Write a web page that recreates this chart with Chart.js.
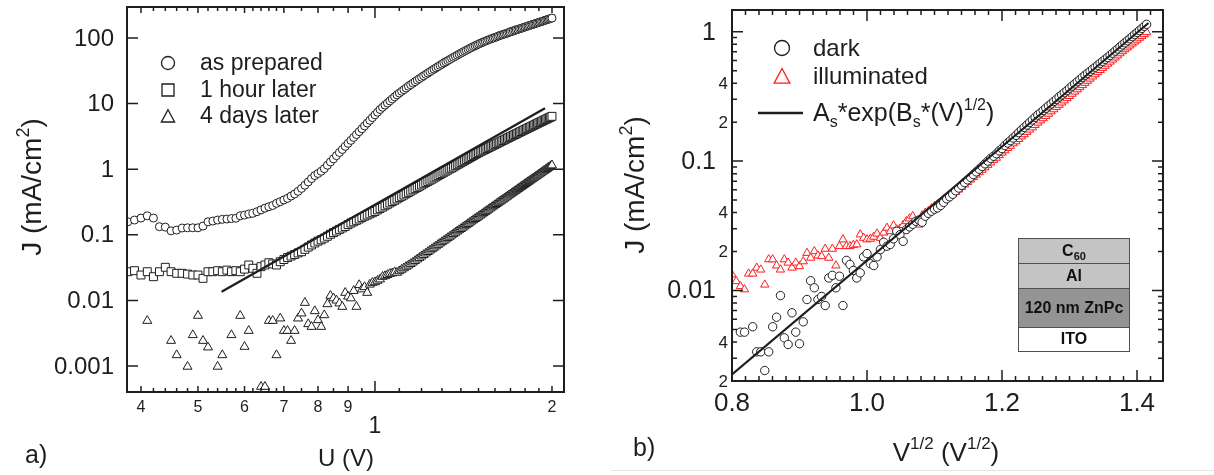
<!DOCTYPE html>
<html>
<head>
<meta charset="utf-8">
<script src="https://cdn.jsdelivr.net/npm/chart.js@4.4.1/dist/chart.umd.min.js"></script>
<style>
  html, body { margin: 0; padding: 0; background: #fff; }
  #wrap { position: relative; width: 1214px; height: 475px; overflow: hidden; }
  canvas { position: absolute; top: 0; }
  #jvA { left: 0; }
  #jvB { left: 600px; }
  .rule { position: absolute; left: 611px; top: 470px; width: 603px; height: 1px; background: #e4e4e4; }
</style>
</head>
<body>
<div id="wrap">
  <canvas id="jvA" width="600" height="475"></canvas>
  <canvas id="jvB" width="614" height="475"></canvas>
  <div class="rule"></div>
</div>
<script>
// ---- panel a: J-U on log-log axes, sample ageing ----
const U_A = [
  0.38, 0.39, 0.40, 0.41, 0.42, 0.43, 0.44, 0.45, 0.46, 0.47, 0.48, 0.49,
  0.50, 0.51, 0.52, 0.53, 0.54, 0.55, 0.56, 0.57, 0.58, 0.59,
  0.60, 0.61, 0.62, 0.63, 0.64, 0.65, 0.66, 0.67, 0.68, 0.69,
  0.70, 0.71, 0.72, 0.73, 0.74, 0.75, 0.76, 0.77, 0.78, 0.79,
  0.80, 0.81, 0.82, 0.83, 0.84, 0.85, 0.86, 0.87, 0.88, 0.89,
  0.90, 0.91, 0.92, 0.93, 0.94, 0.95, 0.96, 0.97, 0.98, 0.99,
  1.00, 1.01, 1.02, 1.03, 1.04, 1.05, 1.06, 1.07, 1.08, 1.09,
  1.10, 1.11, 1.12, 1.13, 1.14, 1.15, 1.16, 1.17, 1.18, 1.19,
  1.20, 1.21, 1.22, 1.23, 1.24, 1.25, 1.26, 1.27, 1.28, 1.29,
  1.30, 1.31, 1.32, 1.33, 1.34, 1.35, 1.36, 1.37, 1.38, 1.39,
  1.40, 1.41, 1.42, 1.43, 1.44, 1.45, 1.46, 1.47, 1.48, 1.49,
  1.50, 1.51, 1.52, 1.53, 1.54, 1.55, 1.56, 1.57, 1.58, 1.59,
  1.60, 1.61, 1.62, 1.63, 1.64, 1.65, 1.66, 1.67, 1.68, 1.69,
  1.70, 1.71, 1.72, 1.73, 1.74, 1.75, 1.76, 1.77, 1.78, 1.79,
  1.80, 1.81, 1.82, 1.83, 1.84, 1.85, 1.86, 1.87, 1.88, 1.89,
  1.90, 1.91, 1.92, 1.93, 1.94, 1.95, 1.96, 1.97, 1.98, 1.99,
  2.00
];
const J_PREPARED = [
  0.158, 0.168, 0.180, 0.195, 0.180, 0.133, 0.131, 0.115, 0.118, 0.127, 0.128, 0.128,
  0.128, 0.136, 0.158, 0.162, 0.168, 0.172, 0.174, 0.177, 0.179, 0.195,
  0.200, 0.208, 0.213, 0.225, 0.240, 0.255, 0.268, 0.280, 0.302, 0.320,
  0.340, 0.360, 0.390, 0.420, 0.460, 0.510, 0.570, 0.640, 0.720, 0.800,
  0.860, 0.930, 1.02, 1.15, 1.29, 1.44, 1.61, 1.80, 2.00, 2.23,
  2.48, 2.75, 3.05, 3.38, 3.74, 4.14, 4.57, 5.05, 5.56, 6.12,
  6.74, 7.40, 8.13, 8.79, 9.49, 10.2, 11.0, 11.8, 12.7, 13.6,
  14.5, 15.4, 16.3, 17.3, 18.4, 19.4, 20.5, 21.6, 22.8, 24.0,
  25.2, 26.5, 27.9, 29.2, 30.6, 32.1, 33.6, 35.1, 36.6, 38.3,
  39.9, 41.7, 43.4, 45.2, 47.0, 48.9, 50.8, 52.7, 54.7, 56.8,
  58.7, 60.8, 63.0, 65.0, 67.3, 69.5, 71.8, 74.0, 76.2, 78.5,
  80.7, 83.0, 85.1, 87.3, 89.5, 91.6, 93.8, 95.9, 98.2, 100,
  102, 104, 107, 109, 111, 113, 115, 117, 119, 122,
  124, 126, 128, 131, 133, 135, 138, 140, 142, 145,
  147, 150, 152, 155, 157, 160, 162, 165, 168, 170,
  173, 176, 178, 181, 184, 187, 190, 193, 195, 199,
  201
];
const J_1HOUR = [
  0.0274, 0.0284, 0.0244, 0.0274, 0.0230, 0.0274, 0.0320, 0.0274, 0.0259, 0.0259, 0.0252, 0.0244,
  0.0244, 0.0217, 0.0274, 0.0274, 0.0284, 0.0274, 0.0290, 0.0274, 0.0284, 0.0274,
  0.0300, 0.0347, 0.0309, 0.0259, 0.0327, 0.0347, 0.0376, 0.0360, 0.0347, 0.0389,
  0.0420, 0.0450, 0.0475, 0.0500, 0.0530, 0.0552, 0.0600, 0.0650, 0.0700, 0.0750,
  0.0800, 0.0840, 0.0890, 0.0950, 0.102, 0.108, 0.114, 0.121, 0.127, 0.134,
  0.143, 0.151, 0.158, 0.166, 0.174, 0.183, 0.192, 0.200, 0.208, 0.217,
  0.227, 0.240, 0.252, 0.264, 0.277, 0.292, 0.306, 0.321, 0.336, 0.352,
  0.369, 0.386, 0.404, 0.423, 0.443, 0.463, 0.484, 0.505, 0.527, 0.550,
  0.574, 0.599, 0.625, 0.651, 0.678, 0.706, 0.736, 0.766, 0.797, 0.830,
  0.863, 0.898, 0.933, 0.969, 1.01, 1.04, 1.08, 1.13, 1.17, 1.21,
  1.26, 1.30, 1.35, 1.40, 1.45, 1.50, 1.56, 1.61, 1.67, 1.73,
  1.79, 1.84, 1.90, 1.95, 2.01, 2.07, 2.13, 2.19, 2.25, 2.32,
  2.39, 2.45, 2.52, 2.59, 2.67, 2.74, 2.81, 2.89, 2.97, 3.05,
  3.13, 3.21, 3.30, 3.38, 3.47, 3.56, 3.65, 3.75, 3.84, 3.94,
  4.04, 4.13, 4.24, 4.34, 4.44, 4.55, 4.66, 4.77, 4.89, 5.01,
  5.12, 5.23, 5.35, 5.48, 5.61, 5.73, 5.86, 6.00, 6.12, 6.26,
  6.40
];
// null = no point (current at or below zero, not shown on a log axis)
const J_4DAYS = [
  null, null, null, 0.0049, null, null, null, 0.00243, 0.00147, null, 0.00098, 0.00297,
  0.00585, 0.00243, 0.00193, null, 0.00098, 0.00147, null, 0.00297, null, 0.00585,
  0.00197, 0.00345, null, null, 0.000484, 0.000484, 0.0049, 0.0049, 0.00147, 0.00533,
  0.00345, 0.00345, 0.00243, 0.00345, 0.00533, 0.00636, 0.00922, 0.00437, 0.00397, 0.00689,
  0.00502, 0.00397, 0.00598, 0.0088, 0.0118, 0.0108, 0.0100, 0.00904, 0.00802, 0.0131,
  0.0115, 0.0108, 0.0140, 0.00802, 0.0172, 0.0148, 0.0160, 0.0131, 0.0175, 0.0186,
  0.0190, 0.0200, 0.0210, 0.0230, 0.0235, 0.0245, 0.0255, 0.0259, 0.0270, 0.0265,
  0.0280, 0.0295, 0.0310, 0.0327, 0.0341, 0.0360, 0.0380, 0.0401, 0.0423, 0.0446,
  0.0470, 0.0495, 0.0522, 0.0549, 0.0577, 0.0607, 0.0638, 0.0670, 0.0705, 0.0740,
  0.0776, 0.0815, 0.0854, 0.0896, 0.0938, 0.0982, 0.103, 0.108, 0.113, 0.118,
  0.123, 0.129, 0.135, 0.141, 0.147, 0.154, 0.161, 0.168, 0.175, 0.182,
  0.190, 0.198, 0.206, 0.215, 0.224, 0.233, 0.243, 0.253, 0.263, 0.274,
  0.285, 0.296, 0.308, 0.320, 0.332, 0.345, 0.358, 0.372, 0.386, 0.401,
  0.416, 0.432, 0.448, 0.464, 0.481, 0.499, 0.517, 0.536, 0.555, 0.575,
  0.596, 0.617, 0.638, 0.661, 0.683, 0.707, 0.731, 0.755, 0.782, 0.808,
  0.835, 0.863, 0.891, 0.921, 0.951, 0.982, 1.01, 1.05, 1.08, 1.12,
  1.15
];
// power-law guide line (end points)
const FIT_A_U = [0.5485, 1.946];
const FIT_A_J = [0.0136, 8.47];

const A_Y_TICKS = [0.001, 0.01, 0.1, 1, 10, 100];
const A_Y_TEXT = ['0.001', '0.01', '0.1', '1', '10', '100'];
const A_X_NAMED = [0.4, 0.5, 0.6, 0.7, 0.8, 0.9, 2];
const A_X_NAMED_TEXT = ['4', '5', '6', '7', '8', '9', '2'];
const A_X_SMALL = [0.42, 0.44, 0.46, 0.48, 0.52, 0.54, 0.56, 0.58, 0.62, 0.64, 0.66, 0.68,
  0.75, 0.85, 0.95, 1.1, 1.2, 1.3, 1.4, 1.5, 1.6, 1.7, 1.8, 1.9];
const A_LEGEND = ['as prepared', '1 hour later', '4 days later'];

// ---- panel b: J vs V^1/2, dark and illuminated ----
const V_B = [
  0.64, 0.65, 0.66, 0.67, 0.68, 0.69,
  0.70, 0.71, 0.72, 0.73, 0.74, 0.75, 0.76, 0.77, 0.78, 0.79,
  0.80, 0.81, 0.82, 0.83, 0.84, 0.85, 0.86, 0.87, 0.88, 0.89,
  0.90, 0.91, 0.92, 0.93, 0.94, 0.95, 0.96, 0.97, 0.98, 0.99,
  1.00, 1.01, 1.02, 1.03, 1.04, 1.05, 1.06, 1.07, 1.08, 1.09,
  1.10, 1.11, 1.12, 1.13, 1.14, 1.15, 1.16, 1.17, 1.18, 1.19,
  1.20, 1.21, 1.22, 1.23, 1.24, 1.25, 1.26, 1.27, 1.28, 1.29,
  1.30, 1.31, 1.32, 1.33, 1.34, 1.35, 1.36, 1.37, 1.38, 1.39,
  1.40, 1.41, 1.42, 1.43, 1.44, 1.45, 1.46, 1.47, 1.48, 1.49,
  1.50, 1.51, 1.52, 1.53, 1.54, 1.55, 1.56, 1.57, 1.58, 1.59,
  1.60, 1.61, 1.62, 1.63, 1.64, 1.65, 1.66, 1.67, 1.68, 1.69,
  1.70, 1.71, 1.72, 1.73, 1.74, 1.75, 1.76, 1.77, 1.78, 1.79,
  1.80, 1.81, 1.82, 1.83, 1.84, 1.85, 1.86, 1.87, 1.88, 1.89,
  1.90, 1.91, 1.92, 1.93, 1.94, 1.95, 1.96, 1.97, 1.98, 1.99,
  2.00
];
const J_DARK = [
  null, null, 0.00477, 0.00477, null, 0.00525,
  0.00336, 0.00336, 0.00241, 0.00336, 0.00525, 0.00622, 0.00914, 0.00431, 0.00383, 0.00673,
  0.00477, 0.00388, 0.00573, 0.00852, 0.0119, 0.0105, 0.00852, 0.0090, 0.00766, 0.0125,
  0.0131, 0.0105, 0.0129, 0.00766, 0.0171, 0.0159, 0.0143, 0.0125, 0.0137, 0.0182,
  0.0193, 0.0161, 0.0156, 0.0182, 0.0207, 0.0236, 0.0220, 0.0227, 0.0251, 0.0287,
  0.0270, 0.0240, 0.0296, 0.0310, 0.0325, 0.0343, 0.0350, 0.0337, 0.0375, 0.0395,
  0.0410, 0.0425, 0.0435, 0.0454, 0.0480, 0.0511, 0.0530, 0.0555, 0.0590, 0.0619,
  0.0650, 0.0682, 0.0716, 0.0750, 0.0787, 0.0826, 0.0866, 0.0909, 0.0953, 0.100,
  0.105, 0.109, 0.114, 0.120, 0.125, 0.132, 0.138, 0.144, 0.151, 0.158,
  0.166, 0.174, 0.182, 0.190, 0.199, 0.208, 0.218, 0.227, 0.236, 0.246,
  0.256, 0.267, 0.277, 0.289, 0.300, 0.313, 0.325, 0.338, 0.351, 0.366,
  0.380, 0.395, 0.411, 0.427, 0.444, 0.461, 0.477, 0.494, 0.513, 0.531,
  0.550, 0.570, 0.590, 0.612, 0.633, 0.657, 0.682, 0.708, 0.735, 0.763,
  0.791, 0.821, 0.851, 0.883, 0.916, 0.950, 0.985, 1.02, 1.06, 1.10,
  1.14
];
const J_ILLUM = [
  0.0133, 0.0118, 0.0108, 0.0102, 0.0135, 0.0135,
  0.0150, 0.0145, 0.0111, 0.0174, 0.0174, 0.0156, 0.0145, 0.0174, 0.0164, 0.0150,
  0.0164, 0.0154, 0.0168, 0.0195, 0.0179, 0.0201, 0.0186, 0.0184, 0.0210, 0.0179,
  0.0210, 0.0156, 0.0220, 0.0248, 0.0220, 0.0220, 0.0225, 0.0227, 0.0271, 0.0255,
  0.0248, 0.0251, 0.0260, 0.0275, 0.0255, 0.0280, 0.0305, 0.0287, 0.0318, 0.0296,
  0.0300, 0.0320, 0.0343, 0.0360, 0.0375, 0.0337, 0.0323, 0.0380, 0.0398, 0.0410,
  0.0430, 0.0448, 0.0462, 0.0475, 0.0504, 0.0520, 0.0535, 0.0555, 0.0576, 0.0602,
  0.0630, 0.0659, 0.0688, 0.0719, 0.0751, 0.0785, 0.0820, 0.0856, 0.0894, 0.0934,
  0.0974, 0.102, 0.106, 0.111, 0.116, 0.121, 0.126, 0.131, 0.137, 0.142,
  0.148, 0.155, 0.161, 0.168, 0.175, 0.182, 0.190, 0.198, 0.206, 0.214,
  0.223, 0.232, 0.242, 0.251, 0.262, 0.272, 0.283, 0.294, 0.306, 0.318,
  0.331, 0.344, 0.358, 0.372, 0.386, 0.402, 0.417, 0.433, 0.450, 0.468,
  0.486, 0.505, 0.524, 0.544, 0.565, 0.586, 0.608, 0.631, 0.655, 0.680,
  0.705, 0.730, 0.755, 0.781, 0.809, 0.837, 0.866, 0.896, 0.926, 0.956,
  0.990
];
// A_s*exp(B_s*V^1/2) fit, end points in V^1/2
const FIT_B_X = [0.8, 1.417];
const FIT_B_J = [0.00225, 1.167];

const B_X_MAJOR = [0.8, 1.0, 1.2, 1.4];
const B_X_TEXT = ['0.8', '1.0', '1.2', '1.4'];
const B_X_MINOR = [0.82, 0.84, 0.86, 0.88, 0.9, 0.92, 0.94, 0.96, 0.98,
  1.02, 1.04, 1.06, 1.08, 1.1, 1.12, 1.14, 1.16, 1.18,
  1.22, 1.24, 1.26, 1.28, 1.3, 1.32, 1.34, 1.36, 1.38, 1.42];
const B_Y_MAJOR = [0.01, 0.1, 1];
const B_Y_TEXT = ['0.01', '0.1', '1'];
const B_Y_MINOR = [0.002, 0.003, 0.004, 0.005, 0.006, 0.007, 0.008, 0.009,
  0.02, 0.03, 0.04, 0.05, 0.06, 0.07, 0.08, 0.09,
  0.2, 0.3, 0.4, 0.5, 0.6, 0.7, 0.8, 0.9];
const B_Y_NAMED = [0.002, 0.004, 0.02, 0.04, 0.2, 0.4];
const B_Y_NAMED_TEXT = ['2', '4', '2', '4', '2', '4'];
const STACK = ['C60', 'Al', '120 nm ZnPc', 'ITO'];

const FONT = '"Liberation Sans", Arial, Helvetica, sans-serif';
const INK = '#1e1e1e';
const RED = '#ff1a1a';

const font = (px, bold) => `${bold ? 'bold ' : ''}${px}px ${FONT}`;

// text made of runs [text, size, baseline shift]; y is the baseline
function rich(ctx, runs, x, y, align) {
  let w = 0;
  for (const r of runs) { ctx.font = font(r[1]); w += ctx.measureText(r[0]).width; }
  let cx = align === 'center' ? x - w / 2 : align === 'right' ? x - w : x;
  ctx.textAlign = 'left';
  ctx.textBaseline = 'alphabetic';
  for (const r of runs) {
    ctx.font = font(r[1]);
    ctx.fillText(r[0], cx, y + (r[2] || 0));
    cx += ctx.measureText(r[0]).width;
  }
}

function legendMark(ctx, style, x, y, s, color) {
  ctx.save();
  ctx.lineWidth = 1.3;
  ctx.strokeStyle = color;
  ctx.fillStyle = '#fff';
  ctx.beginPath();
  if (style === 'circle') ctx.arc(x, y, s, 0, Math.PI * 2);
  else if (style === 'rect') ctx.rect(x - s, y - s, 2 * s, 2 * s);
  else { ctx.moveTo(x, y - s); ctx.lineTo(x + s * 1.05, y + s * 0.95); ctx.lineTo(x - s * 1.05, y + s * 0.95); ctx.closePath(); }
  ctx.fill();
  ctx.stroke();
  ctx.restore();
}

const pairs = (xs, ys, fx) => xs.map((v, i) => ({ x: fx ? fx(v) : v, y: ys[i] })).filter(p => p.y != null);

const baseOptions = (pad, x, y) => ({
  responsive: false,
  animation: false,
  devicePixelRatio: 1,
  events: [],
  layout: { padding: pad },
  plugins: { legend: { display: false }, tooltip: { enabled: false } },
  scales: { x: Object.assign({ display: false }, x), y: Object.assign({ display: false }, y) },
});

// axes, ticks, labels and annotations for panel a
const decorA = {
  id: 'decorA',
  afterDatasetsDraw(c) {
    const { ctx, chartArea: a } = c;
    const xs = c.scales.x, ys = c.scales.y;
    ctx.save();
    ctx.strokeStyle = INK;
    ctx.fillStyle = INK;
    ctx.lineWidth = 1.5;
    ctx.beginPath();
    for (const v of A_Y_TICKS) {
      const p = ys.getPixelForValue(v);
      ctx.moveTo(a.left, p); ctx.lineTo(a.left + 11, p);
      ctx.moveTo(a.right, p); ctx.lineTo(a.right - 11, p);
    }
    const xt = (v, len) => {
      const p = xs.getPixelForValue(v);
      ctx.moveTo(p, a.bottom); ctx.lineTo(p, a.bottom - len);
      ctx.moveTo(p, a.top); ctx.lineTo(p, a.top + len);
    };
    xt(1, 11);
    A_X_NAMED.forEach(v => xt(v, 6));
    A_X_SMALL.forEach(v => xt(v, 4));
    ctx.stroke();
    ctx.lineWidth = 2;
    ctx.strokeRect(a.left, a.top, a.right - a.left, a.bottom - a.top);

    ctx.textAlign = 'right';
    ctx.textBaseline = 'middle';
    ctx.font = font(24);
    A_Y_TICKS.forEach((v, i) => ctx.fillText(A_Y_TEXT[i], a.left - 13, ys.getPixelForValue(v) + 1));
    ctx.textAlign = 'center';
    ctx.textBaseline = 'alphabetic';
    ctx.font = font(16);
    A_X_NAMED.forEach((v, i) => ctx.fillText(A_X_NAMED_TEXT[i], xs.getPixelForValue(v), 412));
    ctx.font = font(23);
    ctx.fillText('1', xs.getPixelForValue(1), 433);

    rich(ctx, [['U (V)', 24]], 346, 466, 'center');
    ctx.save();
    ctx.translate(41, 187);
    ctx.rotate(-Math.PI / 2);
    rich(ctx, [['J (mA/cm', 28], ['2', 18, -12], [')', 28]], 0, 0, 'center');
    ctx.restore();
    rich(ctx, [['a)', 25]], 25, 463, 'left');

    // legend
    legendMark(ctx, 'circle', 168, 63, 6.5, INK);
    legendMark(ctx, 'rect', 168, 90, 6, INK);
    legendMark(ctx, 'triangle', 168, 116, 6.3, INK);
    ctx.font = font(23);
    ctx.textAlign = 'left';
    A_LEGEND.forEach((t, i) => ctx.fillText(t, 200, 70 + i * 26.5));
    ctx.restore();
  }
};

// axes, ticks, labels, legend and layer stack for panel b
const decorB = {
  id: 'decorB',
  afterDatasetsDraw(c) {
    const { ctx, chartArea: a } = c;
    const xs = c.scales.x, ys = c.scales.y;
    ctx.save();
    ctx.strokeStyle = INK;
    ctx.fillStyle = INK;
    ctx.lineWidth = 1.5;
    ctx.beginPath();
    const yt = (v, len) => {
      const p = ys.getPixelForValue(v);
      ctx.moveTo(a.left, p); ctx.lineTo(a.left + len, p);
      ctx.moveTo(a.right, p); ctx.lineTo(a.right - len, p);
    };
    B_Y_MAJOR.forEach(v => yt(v, 11));
    B_Y_MINOR.forEach(v => yt(v, 5));
    const xt = (v, len) => {
      const p = xs.getPixelForValue(v);
      ctx.moveTo(p, a.bottom); ctx.lineTo(p, a.bottom - len);
      ctx.moveTo(p, a.top); ctx.lineTo(p, a.top + len);
    };
    B_X_MAJOR.forEach(v => xt(v, 11));
    B_X_MINOR.forEach(v => xt(v, 5));
    ctx.stroke();
    ctx.lineWidth = 2;
    ctx.strokeRect(a.left, a.top, a.right - a.left, a.bottom - a.top);

    ctx.textAlign = 'right';
    ctx.textBaseline = 'middle';
    ctx.font = font(25);
    B_Y_MAJOR.forEach((v, i) => ctx.fillText(B_Y_TEXT[i], a.left - 16, ys.getPixelForValue(v) + 1));
    ctx.font = font(17);
    B_Y_NAMED.forEach((v, i) => ctx.fillText(B_Y_NAMED_TEXT[i], a.left - 4, ys.getPixelForValue(v) + 1));
    ctx.textAlign = 'center';
    ctx.textBaseline = 'alphabetic';
    ctx.font = font(26);
    B_X_MAJOR.forEach((v, i) => ctx.fillText(B_X_TEXT[i], xs.getPixelForValue(v), 411));

    rich(ctx, [['V', 26], ['1/2', 17, -12], [' (V', 26], ['1/2', 17, -12], [')', 26]], 346, 461, 'center');
    ctx.save();
    ctx.translate(44, 185);
    ctx.rotate(-Math.PI / 2);
    rich(ctx, [['J (mA/cm', 28], ['2', 18, -12], [')', 28]], 0, 0, 'center');
    ctx.restore();
    rich(ctx, [['b)', 25]], 33, 456, 'left');

    // legend
    legendMark(ctx, 'circle', 182, 48, 7.5, INK);
    legendMark(ctx, 'triangle', 182, 76, 7.5, RED);
    ctx.save();
    ctx.lineWidth = 2.7;
    ctx.beginPath(); ctx.moveTo(158, 113); ctx.lineTo(203, 113); ctx.stroke();
    ctx.restore();
    ctx.font = font(24);
    ctx.textAlign = 'left';
    ctx.fillText('dark', 213, 56);
    ctx.fillText('illuminated', 213, 84);
    rich(ctx, [['A', 25], ['s', 16, 6], ['*exp(B', 25], ['s', 16, 6], ['*(V)', 25], ['1/2', 16, -11], [')', 25]], 213, 121, 'left');

    // device layer stack
    const sx = 418, sw = 112;
    const rows = [[238, 25, '#c4c4c4'], [263, 25, '#c4c4c4'], [288, 39, '#949494'], [327, 24, '#ffffff']];
    rows.forEach((r, i) => {
      ctx.fillStyle = r[2];
      ctx.fillRect(sx, r[0], sw, r[1]);
      ctx.strokeStyle = '#505050';
      ctx.lineWidth = 1;
      ctx.strokeRect(sx + 0.5, r[0] + 0.5, sw - 1, r[1]);
      ctx.fillStyle = '#111';
      ctx.textAlign = 'center';
      ctx.textBaseline = 'middle';
      ctx.font = font(16, true);
      const cy = r[0] + r[1] / 2 + 1;
      if (STACK[i] === 'C60') {
        ctx.font = font(16, true);
        const w1 = ctx.measureText('C').width;
        ctx.font = font(11, true);
        const w2 = ctx.measureText('60').width;
        const x0 = sx + sw / 2 - (w1 + w2) / 2;
        ctx.textAlign = 'left';
        ctx.font = font(16, true);
        ctx.fillText('C', x0, cy);
        ctx.font = font(11, true);
        ctx.fillText('60', x0 + w1, cy + 5);
      } else {
        ctx.fillText(STACK[i], sx + sw / 2, cy);
      }
    });
    ctx.restore();
  }
};

new Chart(document.getElementById('jvA'), {
  type: 'scatter',
  data: {
    datasets: [
      { data: pairs(FIT_A_U, FIT_A_J), showLine: true, borderColor: INK, borderWidth: 2.3, pointRadius: 0 },
      { data: pairs(U_A, J_PREPARED), pointStyle: 'circle', pointRadius: 4, borderWidth: 1, borderColor: INK, backgroundColor: '#fff' },
      { data: pairs(U_A, J_1HOUR), pointStyle: 'rect', pointRadius: 5.6, borderWidth: 1, borderColor: INK, backgroundColor: '#fff' },
      { data: pairs(U_A, J_4DAYS), pointStyle: 'triangle', pointRadius: 5.2, borderWidth: 1, borderColor: INK, backgroundColor: '#fff' },
    ]
  },
  options: baseOptions({ left: 127, top: 7, right: 36, bottom: 83 },
    { type: 'logarithmic', min: 0.3787, max: 2.0963 },
    { type: 'logarithmic', min: 0.000402, max: 296.9 }),
  plugins: [decorA],
});

new Chart(document.getElementById('jvB'), {
  type: 'scatter',
  data: {
    datasets: [
      { data: pairs(FIT_B_X, FIT_B_J), showLine: true, borderColor: INK, borderWidth: 2.2, pointRadius: 0 },
      { data: pairs(V_B, J_DARK, Math.sqrt), pointStyle: 'circle', pointRadius: 4.2, borderWidth: 1, borderColor: INK, backgroundColor: '#fff' },
      { data: pairs(V_B, J_ILLUM, Math.sqrt), pointStyle: 'triangle', pointRadius: 4.8, borderWidth: 1, borderColor: RED, backgroundColor: '#fff' },
    ]
  },
  options: baseOptions({ left: 132, top: 10, right: 51, bottom: 94 },
    { type: 'linear', min: 0.8, max: 1.4385 },
    { type: 'logarithmic', min: 0.002, max: 1.471 }),
  plugins: [decorB],
});
</script>
</body>
</html>
